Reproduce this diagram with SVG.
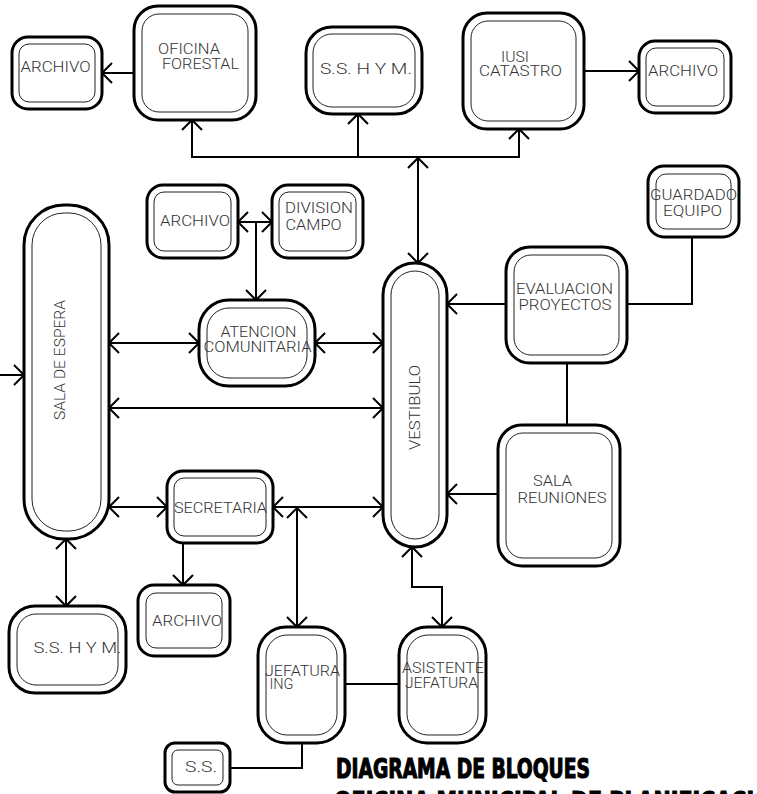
<svg xmlns="http://www.w3.org/2000/svg" width="757" height="794" viewBox="0 0 757 794">
<defs>
<style>
.o{fill:#fff;stroke:#000;stroke-width:3}
.i{fill:none;stroke:#222;stroke-width:1}
.t{font-family:Roboto,"Liberation Sans",Arial,sans-serif;font-weight:300;font-size:15.5px;fill:#333}
.c{fill:none;stroke:#000;stroke-width:2}
.a{marker-end:url(#ar)}
.b{marker-start:url(#ar);marker-end:url(#ar)}
.ttl{font-family:"DejaVu Sans Condensed","DejaVu Sans",sans-serif;font-weight:bold;font-size:27px;fill:#000;stroke:#000;stroke-width:1.1}
</style>
<marker id="ar" markerUnits="userSpaceOnUse" markerWidth="24" markerHeight="24" viewBox="-12 -12 24 24" refX="0" refY="0" orient="auto-start-reverse" overflow="visible">
<path d="M-10,-10 L0,0 L-10,10" fill="none" stroke="#000" stroke-width="2"/>
</marker>
</defs>
<rect width="757" height="794" fill="#fff"/>

<g id="connectors">
<path class="c a" d="M134,73 H102"/>
<path class="c a" d="M584,71 H639"/>
<path class="c b" d="M192,120 V157 H519 V129"/>
<path class="c" d="M358,114 V157" marker-start="url(#ar)"/>
<path class="c b" d="M418,158 V263"/>
<path class="c b" d="M238,222 H272"/>
<path class="c a" d="M256,222 V300"/>
<path class="c b" d="M109,343 H199"/>
<path class="c b" d="M315,343 H383"/>
<path class="c b" d="M109,408 H383"/>
<path class="c b" d="M109,507 H167"/>
<path class="c b" d="M273,507 H383"/>
<path class="c b" d="M297,508 V627"/>
<path class="c a" d="M183,543 V585"/>
<path class="c b" d="M66,539 V606"/>
<path class="c a" d="M0,375 H24"/>
<path class="c" d="M692,237 V304 H627"/>
<path class="c a" d="M506,304 H447"/>
<path class="c" d="M567,363 V425"/>
<path class="c a" d="M498,494 H447"/>
<path class="c b" d="M412,547 V587 H442 V627"/>
<path class="c" d="M345,684 H399"/>
<path class="c" d="M302,743 V768 H230"/>
</g>

<g id="archivo1">
<rect class="o" x="12" y="37" width="90" height="72" rx="16"/>
<rect class="i" x="19" y="44" width="76" height="58" rx="10"/>
<text class="t" x="20.5" y="72" textLength="70" lengthAdjust="spacingAndGlyphs">ARCHIVO</text>
</g>
<g id="oficina-forestal">
<rect class="o" x="134" y="6" width="122" height="114" rx="24"/>
<rect class="i" x="142" y="14" width="106" height="98" rx="17"/>
<text class="t" x="158" y="54" textLength="62" lengthAdjust="spacingAndGlyphs">OFICINA</text>
<text class="t" x="162" y="69" textLength="77" lengthAdjust="spacingAndGlyphs">FORESTAL</text>
</g>
<g id="sshym1">
<rect class="o" x="306" y="27" width="116" height="87" rx="26"/>
<rect class="i" x="313" y="34" width="102" height="73" rx="19"/>
<text class="t" x="320" y="74" textLength="92" lengthAdjust="spacingAndGlyphs">S.S. H Y M.</text>
</g>
<g id="iusi-catastro">
<rect class="o" x="463" y="13" width="121" height="116" rx="24"/>
<rect class="i" x="471" y="21" width="105" height="100" rx="17"/>
<text class="t" x="501" y="62" textLength="28" lengthAdjust="spacingAndGlyphs">IUSI</text>
<text class="t" x="479" y="76" textLength="83" lengthAdjust="spacingAndGlyphs">CATASTRO</text>
</g>
<g id="archivo2">
<rect class="o" x="639" y="41" width="92" height="72" rx="16"/>
<rect class="i" x="646" y="48" width="78" height="58" rx="10"/>
<text class="t" x="648" y="76" textLength="70" lengthAdjust="spacingAndGlyphs">ARCHIVO</text>
</g>
<g id="archivo3">
<rect class="o" x="147" y="185" width="91" height="73" rx="16"/>
<rect class="i" x="154" y="192" width="77" height="59" rx="10"/>
<text class="t" x="160" y="226" textLength="70" lengthAdjust="spacingAndGlyphs">ARCHIVO</text>
</g>
<g id="division-campo">
<rect class="o" x="272" y="185" width="91" height="73" rx="16"/>
<rect class="i" x="279" y="192" width="77" height="59" rx="10"/>
<text class="t" x="285" y="213" textLength="68" lengthAdjust="spacingAndGlyphs">DIVISION</text>
<text class="t" x="285.5" y="230" textLength="56" lengthAdjust="spacingAndGlyphs">CAMPO</text>
</g>
<g id="sala-espera">
<rect class="o" x="24" y="205" width="85" height="334" rx="40"/>
<rect class="i" x="32" y="213" width="69" height="318" rx="32"/>
<text class="t" transform="translate(65,360) rotate(-90)" x="0" y="0" text-anchor="middle" textLength="120" lengthAdjust="spacingAndGlyphs">SALA DE ESPERA</text>
</g>
<g id="atencion-comunitaria">
<rect class="o" x="199" y="300" width="116" height="86" rx="30"/>
<rect class="i" x="207" y="308" width="100" height="70" rx="22"/>
<text class="t" x="220.5" y="337" textLength="76" lengthAdjust="spacingAndGlyphs">ATENCION</text>
<text class="t" x="203.5" y="352" textLength="108" lengthAdjust="spacingAndGlyphs">COMUNITARIA</text>
</g>
<g id="vestibulo">
<rect class="o" x="383" y="263" width="64" height="284" rx="32"/>
<rect class="i" x="391" y="271" width="48" height="268" rx="24"/>
<text class="t" transform="translate(420,407.5) rotate(-90)" x="0" y="0" text-anchor="middle" textLength="85" lengthAdjust="spacingAndGlyphs">VESTIBULO</text>
</g>
<g id="guardado-equipo">
<rect class="o" x="648" y="166" width="91" height="71" rx="16"/>
<rect class="i" x="656" y="174" width="75" height="55" rx="10"/>
<text class="t" x="650" y="199.5" textLength="87" lengthAdjust="spacingAndGlyphs">GUARDADO</text>
<text class="t" x="663" y="216" textLength="59" lengthAdjust="spacingAndGlyphs">EQUIPO</text>
</g>
<g id="evaluacion-proyectos">
<rect class="o" x="506" y="247" width="121" height="116" rx="24"/>
<rect class="i" x="514" y="255" width="105" height="100" rx="17"/>
<text class="t" x="516" y="294" textLength="97" lengthAdjust="spacingAndGlyphs">EVALUACION</text>
<text class="t" x="518.5" y="310" textLength="93" lengthAdjust="spacingAndGlyphs">PROYECTOS</text>
</g>
<g id="sala-reuniones">
<rect class="o" x="498" y="425" width="122" height="141" rx="24"/>
<rect class="i" x="506" y="433" width="106" height="125" rx="17"/>
<text class="t" x="533" y="486" textLength="39" lengthAdjust="spacingAndGlyphs">SALA</text>
<text class="t" x="517.5" y="503" textLength="89" lengthAdjust="spacingAndGlyphs">REUNIONES</text>
</g>
<g id="secretaria">
<rect class="o" x="167" y="471" width="106" height="72" rx="16"/>
<rect class="i" x="174" y="478" width="92" height="58" rx="10"/>
<text class="t" x="174" y="513" textLength="93" lengthAdjust="spacingAndGlyphs">SECRETARIA</text>
</g>
<g id="archivo4">
<rect class="o" x="138" y="585" width="92" height="71" rx="16"/>
<rect class="i" x="146" y="593" width="76" height="55" rx="10"/>
<text class="t" x="152" y="626" textLength="70" lengthAdjust="spacingAndGlyphs">ARCHIVO</text>
</g>
<g id="sshym2">
<rect class="o" x="9" y="606" width="117" height="87" rx="26"/>
<rect class="i" x="17" y="614" width="101" height="71" rx="19"/>
<text class="t" x="33.5" y="653" textLength="88" lengthAdjust="spacingAndGlyphs">S.S. H Y M.</text>
</g>
<g id="jefatura-ing">
<rect class="o" x="258" y="627" width="87" height="116" rx="28"/>
<rect class="i" x="266" y="635" width="71" height="100" rx="21"/>
<text class="t" x="265" y="676" textLength="75" lengthAdjust="spacingAndGlyphs">JEFATURA</text>
<text class="t" x="269.5" y="688.5" textLength="24" lengthAdjust="spacingAndGlyphs">ING</text>
</g>
<g id="asistente-jefatura">
<rect class="o" x="399" y="627" width="87" height="116" rx="28"/>
<rect class="i" x="407" y="635" width="71" height="100" rx="21"/>
<text class="t" x="402" y="673" textLength="82" lengthAdjust="spacingAndGlyphs">ASISTENTE</text>
<text class="t" x="405" y="688" textLength="73" lengthAdjust="spacingAndGlyphs">JEFATURA</text>
</g>
<g id="ss">
<rect class="o" x="165" y="743" width="65" height="49" rx="10"/>
<rect class="i" x="172" y="750" width="51" height="35" rx="6"/>
<text class="t" x="185" y="772" textLength="32" lengthAdjust="spacingAndGlyphs">S.S.</text>
</g>

<g id="title">
<text class="ttl" x="336" y="778" textLength="254" lengthAdjust="spacingAndGlyphs">DIAGRAMA DE BLOQUES</text>
<text class="ttl" x="334" y="811" textLength="455" lengthAdjust="spacingAndGlyphs">OFICINA MUNICIPAL DE PLANIFICACION</text>
</g>
</svg>
